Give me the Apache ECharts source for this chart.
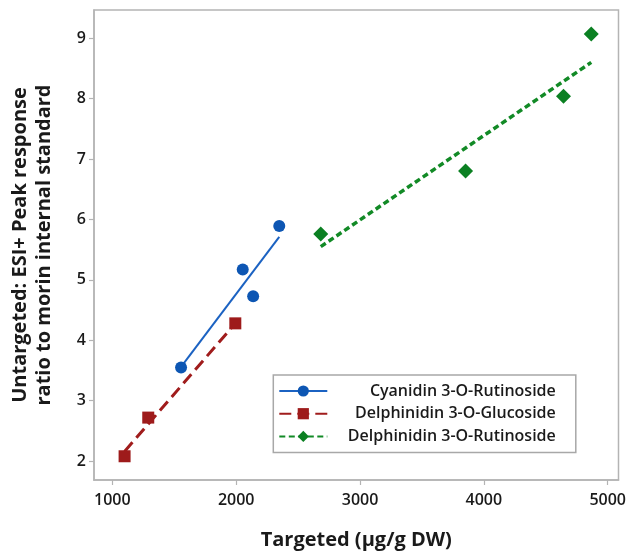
<!DOCTYPE html>
<html>
<head>
<meta charset="utf-8">
<script src="https://cdn.jsdelivr.net/npm/echarts@6/dist/echarts.min.js"></script>
<style>
html,body{margin:0;padding:0;background:#fff;}
#chart{width:629px;height:555px;}
</style>
</head>
<body>
<div id="chart"></div>
<script>
// ---- Data ----
var seriesNames = ['Cyanidin 3-O-Rutinoside', 'Delphinidin 3-O-Glucoside', 'Delphinidin 3-O-Rutinoside'];

var cyanX = [1555, 2053, 2137, 2348];
var cyanY = [3.55, 5.17, 4.73, 5.89];
var cyanFitX = [1555, 2348];
var cyanFitY = [3.56, 5.71];

var glcX = [1099, 1290, 1993];
var glcY = [2.08, 2.72, 4.28];
var glcFitX = [1099, 1993];
var glcFitY = [2.16, 4.28];

var rutX = [2683, 3852, 4643, 4867];
var rutY = [5.76, 6.80, 8.04, 9.07];
var rutFitX = [2683, 4867];
var rutFitY = [5.55, 8.60];

var xTicks = [1000, 2000, 3000, 4000, 5000];
var yTicks = [2, 3, 4, 5, 6, 7, 8, 9];

function pairs(xs, ys) {
  return xs.map(function (x, i) { return [x, ys[i]]; });
}

var FONT = '"Open Sans", "DejaVu Sans", sans-serif';
var AXIS_GRAY = '#b4b4b4';

var chart = echarts.init(document.getElementById('chart'), null, {renderer: 'canvas'});

var option = {
  backgroundColor: '#ffffff',
  animation: false,
  grid: {
    left: 93.3, right: 9.7, top: 10, bottom: 73.3,
    show: true, borderColor: AXIS_GRAY, borderWidth: 1.5,
    containLabel: false
  },
  legend: {
    data: seriesNames,
    orient: 'vertical',
    left: 273.3,
    top: 375,
    padding: [8, 20, 8, 5],
    itemWidth: 48,
    itemHeight: 14,
    itemGap: 6.7,
    backgroundColor: '#ffffff',
    borderColor: '#a8a8a8',
    borderWidth: 1.5,
    borderRadius: 0,
    selectedMode: false,
    formatter: function (name) { return '{t|' + name + '}'; },
    textStyle: {
      rich: {
        t: {
          width: 223.5,
          align: 'right',
          fontFamily: FONT,
          fontSize: 16,
          fontWeight: 600,
          color: '#1a1a1a',
          lineHeight: 16
        }
      }
    }
  },
  xAxis: {
    type: 'value',
    min: 852,
    max: 5087,
    name: 'Targeted (µg/g DW)',
    nameLocation: 'middle',
    nameGap: 50,
    nameTextStyle: {fontFamily: FONT, fontSize: 20, fontWeight: 'bold', color: '#1a1a1a'},
    axisLine: {show: true, lineStyle: {color: AXIS_GRAY, width: 1.5}},
    axisTick: {show: true, customValues: xTicks, length: 5, inside: false, lineStyle: {color: AXIS_GRAY, width: 1.2}},
    axisLabel: {
      customValues: xTicks, margin: 12, fontFamily: FONT, fontSize: 16, fontWeight: 600, color: '#1a1a1a',
      formatter: function (v) { return String(v); }
    },
    splitLine: {show: false}
  },
  yAxis: {
    type: 'value',
    min: 1.687,
    max: 9.467,
    name: 'Untargeted: ESI+ Peak response\nratio to morin internal standard',
    nameLocation: 'middle',
    nameGap: 38,
    nameTextStyle: {fontFamily: FONT, fontSize: 20, fontWeight: 'bold', color: '#1a1a1a', lineHeight: 24},
    axisLine: {show: true, lineStyle: {color: AXIS_GRAY, width: 1.5}},
    axisTick: {show: true, customValues: yTicks, length: 5, inside: false, lineStyle: {color: AXIS_GRAY, width: 1.2}},
    axisLabel: {
      customValues: yTicks, margin: 8, fontFamily: FONT, fontSize: 16, fontWeight: 600, color: '#1a1a1a',
      formatter: function (v) { return String(v); }
    },
    splitLine: {show: false}
  },
  series: [
    // Fit lines (first, so their icons are used in the legend)
    {
      name: seriesNames[0], type: 'line', data: pairs(cyanFitX, cyanFitY),
      symbol: 'circle', showSymbol: false, silent: true, z: 2,
      lineStyle: {color: '#1b62c2', width: 2, type: 'solid'},
      itemStyle: {color: '#0d56b3'}
    },
    {
      name: seriesNames[1], type: 'line', data: pairs(glcFitX, glcFitY),
      symbol: 'rect', showSymbol: false, silent: true, z: 2,
      lineStyle: {color: '#a01c1c', width: 3, type: [12, 6]},
      itemStyle: {color: '#9e1b1b'}
    },
    {
      name: seriesNames[2], type: 'line', data: pairs(rutFitX, rutFitY),
      symbol: 'diamond', showSymbol: false, silent: true, z: 2,
      lineStyle: {color: '#128a26', width: 3.5, type: [6, 3.5]},
      itemStyle: {color: '#0b8022'}
    },
    // Observed points
    {
      name: seriesNames[0], type: 'scatter', data: pairs(cyanX, cyanY),
      symbol: 'circle', symbolSize: 12, z: 3,
      itemStyle: {color: '#0d56b3', opacity: 1}
    },
    {
      name: seriesNames[1], type: 'scatter', data: pairs(glcX, glcY),
      symbol: 'rect', symbolSize: 12, z: 3,
      itemStyle: {color: '#9e1b1b', opacity: 1}
    },
    {
      name: seriesNames[2], type: 'scatter', data: pairs(rutX, rutY),
      symbol: 'diamond', symbolSize: 15, z: 3,
      itemStyle: {color: '#0b8022', opacity: 1}
    }
  ]
};

chart.setOption(option);
</script>
</body>
</html>
